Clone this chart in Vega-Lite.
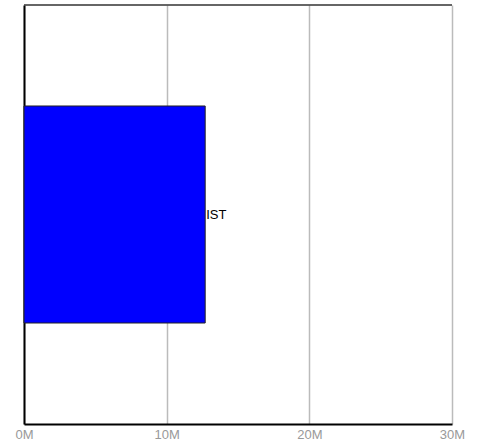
{
  "$schema": "https://vega.github.io/schema/vega-lite/v6.json",
  "width": 428,
  "height": 419,
  "autosize": {"type": "none"},
  "padding": {"left": 24, "top": 5, "right": 26, "bottom": 17},
  "config": {"view": {"stroke": null}, "font": "Liberation Sans"},
  "data": {"values": [{"name": "IST", "value": 12700000}]},
  "layer": [
    {
      "mark": {"type": "bar", "color": "#0000ff", "stroke": "#222222", "strokeWidth": 1},
      "encoding": {
        "y": {"field": "name", "type": "nominal", "axis": {"domain": true, "domainColor": "#000000", "domainWidth": 2, "labels": false, "ticks": false, "title": null}, "scale": {"paddingInner": 0, "paddingOuter": 0.4654}},
        "x": {"field": "value", "type": "quantitative", "scale": {"domain": [0, 30000000], "nice": false},
          "axis": {"values": [0, 10000000, 20000000, 30000000], "labelExpr": "datum.value/1000000 + 'M'", "title": null, "ticks": false, "labelPadding": 4, "labelFlush": false, "labelAlign": "center", "labelColor": "#999999", "labelFontSize": 13, "labelFont": "Liberation Sans", "domainColor": "#000000", "domainWidth": 2, "grid": true, "gridColor": "#bbbbbb", "gridWidth": 1.5}}
      }
    },
    {
      "mark": {"type": "text", "align": "left", "baseline": "middle", "dx": 1, "fontSize": 13, "color": "#000000", "font": "Liberation Sans"},
      "encoding": {
        "y": {"field": "name", "type": "nominal"},
        "x": {"field": "value", "type": "quantitative"},
        "text": {"field": "name"}
      }
    },
    {
      "mark": {"type": "rule", "color": "#333333", "strokeWidth": 1.5},
      "encoding": {
        "x": {"datum": 0, "type": "quantitative"},
        "x2": {"datum": 30000000},
        "y": {"value": 0}
      }
    }
  ]
}
